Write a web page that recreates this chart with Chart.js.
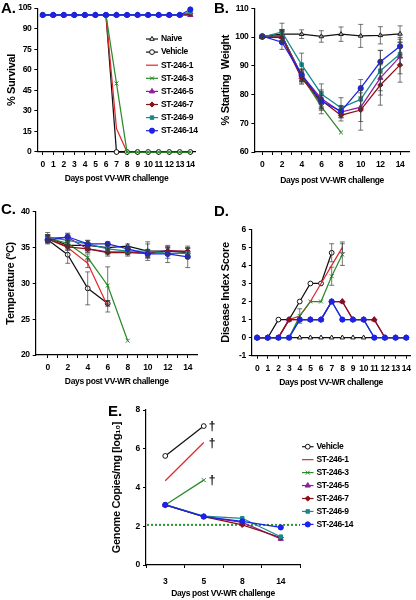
<!DOCTYPE html>
<html>
<head>
<meta charset="utf-8">
<script src="https://cdn.jsdelivr.net/npm/chart.js@4/dist/chart.umd.min.js"></script>
<style>
  html, body { margin: 0; padding: 0; background: #fff; }
  #fig { position: relative; width: 416px; height: 600px; overflow: hidden; }
  #fig canvas { position: absolute; left: 0; top: 0; }
  .tag { position: absolute; font: bold 15px 'Liberation Sans', Arial, sans-serif; line-height: 1; color: #000; }
</style>
</head>
<body>
<div id="fig">
  <canvas id="cA" width="416" height="600"></canvas>
  <canvas id="cB" width="416" height="600"></canvas>
  <canvas id="cC" width="416" height="600"></canvas>
  <canvas id="cD" width="416" height="600"></canvas>
  <canvas id="cE" width="416" height="600"></canvas>
  <div class="tag" style="left:1px;top:0px">A.</div>
  <div class="tag" style="left:214px;top:0px">B.</div>
  <div class="tag" style="left:1px;top:201px">C.</div>
  <div class="tag" style="left:214px;top:203px">D.</div>
  <div class="tag" style="left:108px;top:403px">E.</div>
</div>
<script>
/* Five-panel ST-246 / VV-WR challenge figure (A-E), one Chart.js line chart per panel */

// --- Groups ---
const GROUPS = ['Naive', 'Vehicle', 'ST-246-1', 'ST-246-3', 'ST-246-5', 'ST-246-7', 'ST-246-9', 'ST-246-14'];

// --- Day ticks (A-D) ---
const tickDays  = [0, 1, 2, 3, 4, 5, 6, 7, 8, 9, 10, 11, 12, 13, 14];

// --- A. % survival ---
const aDays     = [0, 1, 2, 3, 4, 5, 6, 7, 8, 9, 10, 11, 12, 13, 14];
const aNaive    = [100, 100, 100, 100, 100, 100, 100, 100, 100, 100, 100, 100, 100, 100, 100];
const aVehicle  = [100, 100, 100, 100, 100, 100, 100, 0, 0, 0, 0, 0, 0, 0, 0];
const aST1      = [100, 100, 100, 100, 100, 100, 100, 17, 0];
const aST3      = [100, 100, 100, 100, 100, 100, 100, 50, 0, 0, 0, 0, 0, 0, 0];
const aST5      = [100, 100, 100, 100, 100, 100, 100, 100, 100, 100, 100, 100, 100, 100, 100];
const aST7      = [100, 100, 100, 100, 100, 100, 100, 100, 100, 100, 100, 100, 100, 100, 101];
const aST9      = [100, 100, 100, 100, 100, 100, 100, 100, 100, 100, 100, 100, 100, 100, 102];
const aST14     = [100, 100, 100, 100, 100, 100, 100, 100, 100, 100, 100, 100, 100, 100, 104];

// --- B. % starting weight (mean, error) ---
const bDays     = [0, 2, 4, 6, 8, 10, 12, 14];
const bNaive    = [100.2, 101.0, 101.0, 100.2, 101.0, 100.4, 100.6, 101.1];
const bNaiveErr = [0.5, 1.5, 1.5, 2.0, 2.5, 4.0, 3.0, 2.8];
const bVehicle  = [100.0, 100.5, 86.5, 77.0];
const bVehErr   = [0.5, 2.0, 2.0, 2.0];
const bST1      = [100.0, 100.5, 86.0, 76.5];
const bST1Err   = [0.5, 2.0, 2.0, 2.0];
const bST3      = [100.0, 100.5, 86.5, 75.8, 66.8];
const bST3Err   = [0.5, 2.0, 2.0, 2.5, 0];
const bST5      = [100.0, 100.0, 86.8, 78.6, 73.9, 75.6, 85.8, 93.2];
const bST5Err   = [0.5, 2.0, 2.0, 3.0, 2.0, 5.0, 6.0, 6.0];
const bST7      = [100.0, 99.8, 85.6, 78.0, 72.8, 74.6, 83.3, 90.3];
const bST7Err   = [0.5, 2.0, 2.0, 3.0, 2.0, 7.0, 7.0, 6.0];
const bST9      = [100.0, 101.8, 90.4, 80.2, 75.4, 78.3, 88.3, 94.1];
const bST9Err   = [0.5, 3.0, 4.0, 3.5, 3.5, 3.5, 7.0, 4.0];
const bST14     = [100.3, 98.2, 86.9, 77.7, 74.2, 82.2, 91.4, 96.8];
const bST14Err  = [0.5, 2.5, 2.0, 2.0, 2.0, 3.0, 4.0, 3.0];

// --- C. temperature (mean, error) ---
const cDays     = [0, 2, 4, 6, 8, 10, 12, 14];
const cNaive    = [36.4, 35.3, 35.3, 35.0, 35.2, 34.5, 34.5, 34.3];
const cNaiveErr = [0.4, 0.4, 0.4, 0.4, 0.3, 1.3, 0.6, 0.6];
const cVehicle  = [36.1, 34.0, 29.3, 27.2];
const cVehErr   = [0.5, 1.2, 2.3, 0.4];
const cST1      = [36.2, 35.0, 32.8, 26.8];
const cST1Err   = [0.5, 0.4, 0.6, 0.8];
const cST3      = [36.3, 35.6, 33.6, 29.7, 22.0];
const cST3Err   = [0.5, 0.4, 0.5, 2.6, 0];
const cST5      = [36.3, 36.4, 34.8, 34.4, 34.4, 34.2, 34.6, 34.4];
const cST5Err   = [0.5, 0.5, 0.5, 0.4, 0.4, 0.5, 0.5, 0.5];
const cST7      = [36.2, 35.1, 34.8, 34.3, 34.3, 34.2, 34.5, 34.5];
const cST7Err   = [0.5, 0.4, 0.4, 0.5, 0.5, 0.5, 0.5, 0.5];
const cST9      = [36.5, 36.0, 35.5, 34.8, 34.5, 34.5, 34.2, 34.2];
const cST9Err   = [0.6, 0.5, 0.5, 0.5, 0.5, 1.0, 0.7, 0.7];
const cST14     = [36.0, 36.5, 35.5, 35.5, 34.8, 34.1, 34.1, 33.7];
const cST14Err  = [0.5, 0.5, 0.5, 0.3, 0.4, 0.5, 1.2, 1.5];

// --- D. disease index score ---
const dDays     = [0, 1, 2, 3, 4, 5, 6, 7, 8, 9, 10, 11, 12, 13, 14];
const dNaive    = [0, 0, 0, 0, 0, 0, 0, 0, 0, 0, 0, 0, 0, 0, 0];
const dVehicle  = [0, 0, 1, 1, 2, 3, 3, 4.7];
const dVehErr   = [0, 0, 0, 0, 0, 0, 0, 0.5];
const dST1      = [0, 0, 0, 1, 1.2, 2, 3, 4, 5];
const dST1Err   = [0, 0, 0, 0, 0, 0, 0, 0, 0.3];
const dST3      = [0, 0, 0, 0, 1.2, 2, 2, 3.4, 4.6];
const dST3Err   = [0, 0, 0, 0, 0.4, 0, 0, 0.5, 0.6];
const dST5      = [0, 0, 0, 1, 1, 1, 1, 2, 2, 1, 1, 1, 0, 0, 0];
const dST7      = [0, 0, 0, 1, 1, 1, 1, 2, 2, 1, 1, 1, 0, 0, 0];
const dST9      = [0, 0, 0, 0, 1, 1, 1, 2, 1, 1, 1, 0, 0, 0, 0];
const dST14     = [0, 0, 0, 0, 1, 1, 1, 2, 1, 1, 1, 0, 0, 0, 0];

// --- E. genome copies/mg [log10] ---
const eDays     = ['3', '5', '8', '14'];
const eVehicle  = [5.63, 7.17];
const eST1      = [4.35, 6.32];
const eST3      = [3.1, 4.38];
const eST5      = [3.1, 2.5, 2.2, 1.35];
const eST7      = [3.1, 2.5, 2.07, 1.42];
const eST9      = [3.12, 2.52, 2.41, 1.46];
const eST14     = [3.1, 2.5, 2.25, 1.94];
const eLimit    = 2.07;
const eDead     = ['Vehicle', 'ST-246-1', 'ST-246-3'];

// --- Look ---
const FONT = "'Liberation Sans', Arial, sans-serif";
const FS = 8.5;      // ticks, legend, x titles
const FS_Y = 11;     // y titles are set larger in the original
Chart.defaults.font.family = FONT;
Chart.defaults.font.weight = 'bold';
Chart.defaults.font.size = FS;
Chart.defaults.color = '#000';

const STYLE = {
  'Naive':     { color: '#111111', marker: 'triangle', open: true, r: 2.6 },
  'Vehicle':   { color: '#111111', marker: 'circle',   open: true, r: 2.4 },
  'ST-246-1':  { color: '#e3262b', marker: null },
  'ST-246-3':  { color: '#2b8a2b', marker: 'crossRot', r: 2.8 },
  'ST-246-5':  { color: '#901c9e', marker: 'triangle', r: 3 },
  'ST-246-7':  { color: '#8a1015', marker: 'rectRot',  r: 2.6 },
  'ST-246-9':  { color: '#178a8a', marker: 'rect',     r: 2.5 },
  'ST-246-14': { color: '#1c22e6', marker: 'circle',   r: 2.6 }
};

function series(name, xs, ys, errs) {
  const s = STYLE[name];
  return {
    label: name,
    data: xs ? ys.map((v, i) => ({ x: xs[i], y: v })) : ys,
    errors: errs || null,
    dagger: eDead.includes(name),
    order: GROUPS.length - GROUPS.indexOf(name),
    borderColor: s.color,
    borderWidth: 1.25,
    pointStyle: s.marker || 'circle',
    pointRadius: s.marker ? s.r : 0,
    pointBorderColor: s.color,
    pointBackgroundColor: s.open ? '#fff' : s.color,
    pointBorderWidth: 1,
    tension: 0,
    clip: false
  };
}

// --- Plugins ---
// tighter letter spacing stands in for the narrow face of the original
const narrowText = {
  id: 'narrowText',
  beforeDraw(chart) { chart.ctx.letterSpacing = '-0.35px'; }
};

const errBars = {
  id: 'errBars',
  afterDatasetsDraw(chart) {
    const ctx = chart.ctx, ys = chart.scales.y;
    ctx.save();
    ctx.lineWidth = 1;
    ctx.strokeStyle = 'rgba(60,60,60,0.7)';
    chart.data.datasets.forEach((ds, i) => {
      if (!ds.errors) return;
      chart.getDatasetMeta(i).data.forEach((pt, j) => {
        const e = ds.errors[j];
        if (!e) return;
        const raw = ds.data[j];
        const v = typeof raw === 'object' ? raw.y : raw;
        const y1 = ys.getPixelForValue(v - e), y2 = ys.getPixelForValue(v + e);
        ctx.beginPath();
        ctx.moveTo(pt.x, y1); ctx.lineTo(pt.x, y2);
        ctx.moveTo(pt.x - 2.5, y1); ctx.lineTo(pt.x + 2.5, y1);
        ctx.moveTo(pt.x - 2.5, y2); ctx.lineTo(pt.x + 2.5, y2);
        ctx.stroke();
      });
    });
    ctx.restore();
  }
};

const lineLegend = {
  id: 'lineLegend',
  afterDraw(chart, args, o) {
    if (o.x === undefined) return;
    const ctx = chart.ctx;
    ctx.save();
    ctx.font = 'bold ' + FS + 'px ' + FONT;
    ctx.textBaseline = 'middle';
    chart.data.datasets.forEach((ds, i) => {
      const y = o.y + i * o.gap;
      ctx.strokeStyle = ds.borderColor;
      ctx.lineWidth = 1.2;
      ctx.beginPath(); ctx.moveTo(o.x, y); ctx.lineTo(o.x + o.len, y); ctx.stroke();
      if (ds.pointRadius > 0) {
        ctx.fillStyle = ds.pointBackgroundColor;
        ctx.strokeStyle = ds.pointBorderColor;
        ctx.lineWidth = 1;
        Chart.helpers.drawPoint(ctx, { pointStyle: ds.pointStyle, radius: ds.pointRadius, rotation: 0, borderWidth: 1 }, o.x + o.len / 2, y);
      }
      ctx.fillStyle = '#000';
      ctx.fillText(ds.label, o.x + o.len + 3, y);
    });
    ctx.restore();
  }
};

const limitLine = {
  id: 'limitLine',
  beforeDatasetsDraw(chart, args, o) {
    if (o.value === undefined) return;
    const ctx = chart.ctx, a = chart.chartArea;
    const y = chart.scales.y.getPixelForValue(o.value);
    ctx.save();
    ctx.strokeStyle = '#2a9a2a';
    ctx.lineWidth = 2;
    ctx.setLineDash([2, 2]);
    ctx.beginPath(); ctx.moveTo(a.left + 1, y); ctx.lineTo(a.right, y); ctx.stroke();
    ctx.restore();
  }
};

const daggers = {
  id: 'daggers',
  afterDatasetsDraw(chart, args, o) {
    if (!o.show) return;
    const ctx = chart.ctx;
    ctx.save();
    ctx.font = "bold 12px 'Liberation Sans', Arial, sans-serif";
    ctx.fillStyle = '#000';
    ctx.textBaseline = 'middle';
    chart.data.datasets.forEach((ds, i) => {
      if (!ds.dagger) return;
      const pts = chart.getDatasetMeta(i).data;
      const last = pts[pts.length - 1];
      ctx.fillText('\u2020', last.x + 5, last.y + 1);
    });
    ctx.restore();
  }
};

Chart.register(narrowText, errBars, lineLegend, limitLine, daggers);

// --- Panel builder ---
const W = 416, H = 600;

function makePanel(id, g, datasets, xo, yo, extra) {
  const x = {
    type: xo.type || 'linear',
    offset: !!xo.offset,
    afterFit: s => { s.height = g.xH; },
    ticks: { autoSkip: false, maxRotation: 0, padding: g.xPad || 5 },
    grid: { drawOnChartArea: false, drawTicks: true, tickLength: 3, color: '#000', offset: !!xo.offset },
    border: { color: '#000', width: 1.2 },
    title: { display: true, text: 'Days post VV-WR challenge', padding: 0 }
  };
  if (x.type === 'linear') {
    x.min = xo.min;
    x.max = xo.max;
    x.ticks.callback = v => (v % xo.every === 0 ? v : '');
    x.afterBuildTicks = s => { s.ticks = tickDays.map(v => ({ value: v })); };
  }
  return new Chart(document.getElementById(id), {
    type: 'line',
    data: { labels: xo.labels, datasets },
    options: {
      responsive: false,
      animation: false,
      events: [],
      layout: { autoPadding: false, padding: { left: g.L - g.yW, top: g.T, right: W - g.R, bottom: H - g.B - g.xH } },
      plugins: Object.assign({ legend: { display: false }, tooltip: { enabled: false } }, extra || {}),
      scales: {
        x,
        y: {
          min: yo.min,
          max: yo.max,
          afterFit: s => { s.width = g.yW; },
          ticks: { stepSize: yo.step, padding: 3, autoSkip: false },
          grid: { drawOnChartArea: false, drawTicks: true, tickLength: 3, color: '#000' },
          border: { color: '#000', width: 1.2 },
          title: { display: true, text: yo.title, padding: 0, font: { size: FS_Y } }
        }
      }
    }
  });
}

// --- A ---
makePanel('cA',
  { L: 37.4, T: 7.3, R: 195.6, B: 152, yW: 32.3, xH: 32.1 },
  [
    series('Naive', aDays, aNaive),
    series('Vehicle', aDays, aVehicle),
    series('ST-246-1', aDays, aST1),
    series('ST-246-3', aDays, aST3),
    series('ST-246-5', aDays, aST5),
    series('ST-246-7', aDays, aST7),
    series('ST-246-9', aDays, aST9),
    series('ST-246-14', aDays, aST14)
  ],
  { min: -0.5, max: 14.5, every: 1 },
  { min: 0, max: 105, step: 15, title: '% Survival' },
  { lineLegend: { x: 146, y: 39, gap: 13.1, len: 12 } }
);

// --- B ---
makePanel('cB',
  { L: 254.4, T: 8.3, R: 409.9, B: 152, yW: 35.2, xH: 33.4 },
  [
    series('Naive', bDays, bNaive, bNaiveErr),
    series('Vehicle', bDays, bVehicle, bVehErr),
    series('ST-246-1', bDays, bST1, bST1Err),
    series('ST-246-3', bDays, bST3, bST3Err),
    series('ST-246-5', bDays, bST5, bST5Err),
    series('ST-246-7', bDays, bST7, bST7Err),
    series('ST-246-9', bDays, bST9, bST9Err),
    series('ST-246-14', bDays, bST14, bST14Err)
  ],
  { min: -0.8, max: 15, every: 2 },
  { min: 60, max: 110, step: 10, title: '% Starting  Weight' }
);

// --- C ---
makePanel('cC',
  { L: 35.7, T: 211.7, R: 197.7, B: 355, yW: 31.5, xH: 31.8 },
  [
    series('Naive', cDays, cNaive, cNaiveErr),
    series('Vehicle', cDays, cVehicle, cVehErr),
    series('ST-246-1', cDays, cST1, cST1Err),
    series('ST-246-3', cDays, cST3, cST3Err),
    series('ST-246-5', cDays, cST5, cST5Err),
    series('ST-246-7', cDays, cST7, cST7Err),
    series('ST-246-9', cDays, cST9, cST9Err),
    series('ST-246-14', cDays, cST14, cST14Err)
  ],
  { min: -1.2, max: 15, every: 2 },
  { min: 20, max: 40, step: 5, title: 'Temperature (\u00BAC)' }
);

// --- D ---
makePanel('cD',
  { L: 251.8, T: 229.3, R: 414.8, B: 355.7, yW: 32.9, xH: 32.4 },
  [
    series('Naive', dDays, dNaive),
    series('Vehicle', dDays, dVehicle, dVehErr),
    series('ST-246-1', dDays, dST1, dST1Err),
    series('ST-246-3', dDays, dST3, dST3Err),
    series('ST-246-5', dDays, dST5),
    series('ST-246-7', dDays, dST7),
    series('ST-246-9', dDays, dST9),
    series('ST-246-14', dDays, dST14)
  ],
  { min: -0.5, max: 14.4, every: 1 },
  { min: -1, max: 6, step: 1, title: 'Disease Index Score' }
);

// --- E ---
makePanel('cE',
  { L: 146, T: 410, R: 300, B: 565, yW: 36.1, xH: 34.1, xPad: 9 },
  [
    series('Vehicle', null, eVehicle),
    series('ST-246-1', null, eST1),
    series('ST-246-3', null, eST3),
    series('ST-246-5', null, eST5),
    series('ST-246-7', null, eST7),
    series('ST-246-9', null, eST9),
    series('ST-246-14', null, eST14)
  ],
  { type: 'category', labels: eDays, offset: true },
  { min: 0, max: 8, step: 2, title: 'Genome Copies/mg [log\u2081\u2080]' },
  {
    lineLegend: { x: 302, y: 446.7, gap: 12.95, len: 11.5 },
    limitLine: { value: eLimit },
    daggers: { show: true }
  }
);
</script>
</body>
</html>
